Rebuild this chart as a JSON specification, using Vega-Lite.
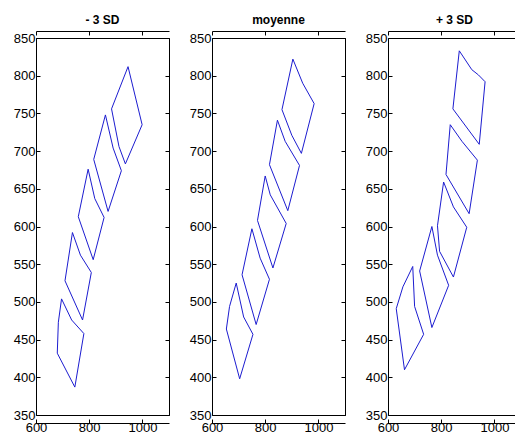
{
  "$schema": "https://vega.github.io/schema/vega-lite/v6.json",
  "padding": {"left": 4, "top": 13, "right": 0, "bottom": 0},
  "background": "white",
  "data": {"values": [
    {"p":"- 3 SD","s":"A","i":0,"x":696,"y":504},
    {"p":"- 3 SD","s":"A","i":1,"x":734,"y":476},
    {"p":"- 3 SD","s":"A","i":2,"x":780,"y":458},
    {"p":"- 3 SD","s":"A","i":3,"x":746,"y":387},
    {"p":"- 3 SD","s":"A","i":4,"x":680,"y":432},
    {"p":"- 3 SD","s":"A","i":5,"x":684,"y":473},
    {"p":"- 3 SD","s":"A","i":6,"x":696,"y":504},
    {"p":"- 3 SD","s":"B","i":0,"x":737,"y":592},
    {"p":"- 3 SD","s":"B","i":1,"x":767,"y":562},
    {"p":"- 3 SD","s":"B","i":2,"x":808,"y":539},
    {"p":"- 3 SD","s":"B","i":3,"x":775,"y":476},
    {"p":"- 3 SD","s":"B","i":4,"x":709,"y":528},
    {"p":"- 3 SD","s":"B","i":5,"x":737,"y":592},
    {"p":"- 3 SD","s":"C","i":0,"x":796,"y":676},
    {"p":"- 3 SD","s":"C","i":1,"x":821,"y":637},
    {"p":"- 3 SD","s":"C","i":2,"x":856,"y":612},
    {"p":"- 3 SD","s":"C","i":3,"x":815,"y":556},
    {"p":"- 3 SD","s":"C","i":4,"x":759,"y":613},
    {"p":"- 3 SD","s":"C","i":5,"x":796,"y":676},
    {"p":"- 3 SD","s":"D","i":0,"x":861,"y":748},
    {"p":"- 3 SD","s":"D","i":1,"x":890,"y":704},
    {"p":"- 3 SD","s":"D","i":2,"x":921,"y":674},
    {"p":"- 3 SD","s":"D","i":3,"x":871,"y":620},
    {"p":"- 3 SD","s":"D","i":4,"x":817,"y":689},
    {"p":"- 3 SD","s":"D","i":5,"x":861,"y":748},
    {"p":"- 3 SD","s":"E","i":0,"x":946,"y":812},
    {"p":"- 3 SD","s":"E","i":1,"x":999,"y":735},
    {"p":"- 3 SD","s":"E","i":2,"x":936,"y":683},
    {"p":"- 3 SD","s":"E","i":3,"x":912,"y":706},
    {"p":"- 3 SD","s":"E","i":4,"x":884,"y":756},
    {"p":"- 3 SD","s":"E","i":5,"x":946,"y":812},
    {"p":"moyenne","s":"A","i":0,"x":691,"y":525},
    {"p":"moyenne","s":"A","i":1,"x":719,"y":480},
    {"p":"moyenne","s":"A","i":2,"x":754,"y":457},
    {"p":"moyenne","s":"A","i":3,"x":704,"y":398},
    {"p":"moyenne","s":"A","i":4,"x":654,"y":464},
    {"p":"moyenne","s":"A","i":5,"x":666,"y":494},
    {"p":"moyenne","s":"A","i":6,"x":691,"y":525},
    {"p":"moyenne","s":"B","i":0,"x":750,"y":597},
    {"p":"moyenne","s":"B","i":1,"x":781,"y":558},
    {"p":"moyenne","s":"B","i":2,"x":816,"y":530},
    {"p":"moyenne","s":"B","i":3,"x":766,"y":470},
    {"p":"moyenne","s":"B","i":4,"x":713,"y":536},
    {"p":"moyenne","s":"B","i":5,"x":750,"y":597},
    {"p":"moyenne","s":"C","i":0,"x":800,"y":667},
    {"p":"moyenne","s":"C","i":1,"x":819,"y":642},
    {"p":"moyenne","s":"C","i":2,"x":879,"y":604},
    {"p":"moyenne","s":"C","i":3,"x":829,"y":545},
    {"p":"moyenne","s":"C","i":4,"x":771,"y":608},
    {"p":"moyenne","s":"C","i":5,"x":800,"y":667},
    {"p":"moyenne","s":"D","i":0,"x":846,"y":741},
    {"p":"moyenne","s":"D","i":1,"x":875,"y":713},
    {"p":"moyenne","s":"D","i":2,"x":929,"y":681},
    {"p":"moyenne","s":"D","i":3,"x":885,"y":621},
    {"p":"moyenne","s":"D","i":4,"x":816,"y":682},
    {"p":"moyenne","s":"D","i":5,"x":846,"y":741},
    {"p":"moyenne","s":"E","i":0,"x":904,"y":822},
    {"p":"moyenne","s":"E","i":1,"x":941,"y":790},
    {"p":"moyenne","s":"E","i":2,"x":984,"y":763},
    {"p":"moyenne","s":"E","i":3,"x":936,"y":697},
    {"p":"moyenne","s":"E","i":4,"x":900,"y":721},
    {"p":"moyenne","s":"E","i":5,"x":863,"y":755},
    {"p":"moyenne","s":"E","i":6,"x":904,"y":822},
    {"p":"+ 3 SD","s":"A","i":0,"x":693,"y":547},
    {"p":"+ 3 SD","s":"A","i":1,"x":700,"y":494},
    {"p":"+ 3 SD","s":"A","i":2,"x":734,"y":457},
    {"p":"+ 3 SD","s":"A","i":3,"x":662,"y":410},
    {"p":"+ 3 SD","s":"A","i":4,"x":631,"y":491},
    {"p":"+ 3 SD","s":"A","i":5,"x":656,"y":520},
    {"p":"+ 3 SD","s":"A","i":6,"x":693,"y":547},
    {"p":"+ 3 SD","s":"B","i":0,"x":765,"y":600},
    {"p":"+ 3 SD","s":"B","i":1,"x":786,"y":562},
    {"p":"+ 3 SD","s":"B","i":2,"x":828,"y":522},
    {"p":"+ 3 SD","s":"B","i":3,"x":765,"y":466},
    {"p":"+ 3 SD","s":"B","i":4,"x":719,"y":541},
    {"p":"+ 3 SD","s":"B","i":5,"x":765,"y":600},
    {"p":"+ 3 SD","s":"C","i":0,"x":809,"y":659},
    {"p":"+ 3 SD","s":"C","i":1,"x":846,"y":626},
    {"p":"+ 3 SD","s":"C","i":2,"x":896,"y":599},
    {"p":"+ 3 SD","s":"C","i":3,"x":846,"y":533},
    {"p":"+ 3 SD","s":"C","i":4,"x":794,"y":567},
    {"p":"+ 3 SD","s":"C","i":5,"x":786,"y":601},
    {"p":"+ 3 SD","s":"C","i":6,"x":809,"y":659},
    {"p":"+ 3 SD","s":"D","i":0,"x":834,"y":735},
    {"p":"+ 3 SD","s":"D","i":1,"x":878,"y":713},
    {"p":"+ 3 SD","s":"D","i":2,"x":936,"y":688},
    {"p":"+ 3 SD","s":"D","i":3,"x":905,"y":617},
    {"p":"+ 3 SD","s":"D","i":4,"x":818,"y":669},
    {"p":"+ 3 SD","s":"D","i":5,"x":834,"y":735},
    {"p":"+ 3 SD","s":"E","i":0,"x":868,"y":833},
    {"p":"+ 3 SD","s":"E","i":1,"x":915,"y":808},
    {"p":"+ 3 SD","s":"E","i":2,"x":940,"y":801},
    {"p":"+ 3 SD","s":"E","i":3,"x":965,"y":792},
    {"p":"+ 3 SD","s":"E","i":4,"x":943,"y":709},
    {"p":"+ 3 SD","s":"E","i":5,"x":844,"y":756},
    {"p":"+ 3 SD","s":"E","i":6,"x":868,"y":833}
  ]},
  "facet": {"column": {"field": "p", "type": "nominal", "sort": ["- 3 SD", "moyenne", "+ 3 SD"], "title": null,
    "header": {"labelFontSize": 12, "labelFontWeight": "bold", "labelFont": "Liberation Sans", "labelColor": "black", "labelPadding": 4}}},
  "spacing": 10,
  "spec": {
    "width": 133,
    "height": 377,
    "layer": [
      {
        "mark": {"type": "line", "color": "#1c1cd0", "strokeWidth": 1},
        "encoding": {
          "x": {"field": "x", "type": "quantitative", "title": null,
            "scale": {"domain": [600, 1100], "nice": false, "zero": false},
            "axis": {"values": [600, 800, 1000], "tickSize": -4, "labelPadding": 2, "format": "d"}},
          "y": {"field": "y", "type": "quantitative", "title": null,
            "scale": {"domain": [350, 850], "nice": false, "zero": false},
            "axis": {"values": [350, 400, 450, 500, 550, 600, 650, 700, 750, 800, 850], "tickSize": -4, "labelPadding": 5, "minExtent": 31, "maxExtent": 31, "format": "d"}},
          "detail": {"field": "s", "type": "nominal"},
          "order": {"field": "i", "type": "quantitative"}
        }
      },
      {
        "mark": {"type": "point", "opacity": 0},
        "encoding": {
          "x": {"field": "x", "type": "quantitative", "title": null,
            "axis": {"orient": "top", "values": [600, 800, 1000], "tickSize": -4, "labels": false, "minExtent": 0, "maxExtent": 0}},
          "y": {"field": "y", "type": "quantitative", "title": null,
            "axis": {"orient": "right", "values": [350, 400, 450, 500, 550, 600, 650, 700, 750, 800, 850], "tickSize": -4, "labels": false, "minExtent": 0, "maxExtent": 0}}
        }
      }
    ],
    "resolve": {"axis": {"x": "independent", "y": "independent"}}
  },
  "resolve": {"axis": {"y": "independent"}},
  "config": {
    "view": {"stroke": "black", "strokeWidth": 1},
    "axis": {"grid": false, "domainColor": "black", "tickColor": "black", "labelColor": "black", "labelFont": "Liberation Sans", "labelFontSize": 13, "labelFlush": false, "labelOverlap": false}
  }
}
